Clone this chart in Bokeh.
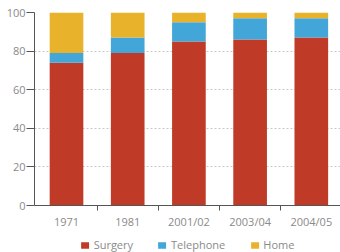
from bokeh.plotting import figure
from bokeh.models import ColumnDataSource, FixedTicker, Legend, LegendItem, Range1d, LinearAxis
from bokeh.embed import file_html
from bokeh.resources import INLINE

categories = ["1971", "1981", "2001/02", "2003/04", "2004/05"]
surgery = [74, 79, 85, 86, 87]
telephone = [5, 8, 10, 11, 10]
home = [21, 13, 5, 3, 3]
series = ["Surgery", "Telephone", "Home"]
colors = ["#c03a28", "#42a6d8", "#e9b22b"]
y_ticks = [0, 20, 40, 60, 80, 100]

pos = list(range(len(categories)))
source = ColumnDataSource(dict(x=pos, Surgery=surgery, Telephone=telephone, Home=home))

FONT = "Open Sans"
GRAY = "#8a8a8a"
AX = "#555555"

p = figure(width=340, height=252, output_backend="svg", toolbar_location=None,
           x_axis_location=None,
           x_range=Range1d(-0.523, 4.477), y_range=Range1d(-24.35, 100),
           min_border_left=34, min_border_right=0, min_border_top=12, min_border_bottom=0)
p.outline_line_color = None
p.background_fill_color = "white"
p.border_fill_color = "white"

rs = p.vbar_stack(series, x="x", width=0.55, color=colors, line_color=None, source=source)

p.xgrid.visible = False
p.ygrid.grid_line_color = "#c8c8c8"
p.ygrid.grid_line_dash = "2 2"
p.ygrid.ticker = FixedTicker(ticks=y_ticks)

ya = p.yaxis[0]
ya.ticker = FixedTicker(ticks=y_ticks)
ya.bounds = (0, 100)
ya.axis_line_color = AX
ya.major_tick_line_color = AX
ya.major_tick_out = 8
ya.major_tick_in = 0
ya.minor_tick_line_color = None
ya.major_label_standoff = 1
ya.major_label_text_font = FONT
ya.major_label_text_font_size = "11px"
ya.major_label_text_color = GRAY

xa = LinearAxis(fixed_location=0)
xa.ticker = FixedTicker(ticks=pos, minor_ticks=[i + 0.5 for i in pos[:-1]])
xa.major_label_overrides = {i: c for i, c in enumerate(categories)}
xa.axis_line_color = AX
xa.major_tick_line_color = None
xa.major_tick_out = 5
xa.major_tick_in = 0
xa.minor_tick_line_color = AX
xa.minor_tick_out = 5
xa.minor_tick_in = 0
xa.major_label_standoff = 3
xa.major_label_text_font = FONT
xa.major_label_text_font_size = "11px"
xa.major_label_text_color = GRAY
p.add_layout(xa, "below")

legend = Legend(items=[LegendItem(label=s, renderers=[r]) for s, r in zip(series, rs)],
                orientation="horizontal", location="bottom_center",
                glyph_width=10, glyph_height=8, label_height=12, label_standoff=4,
                spacing=24, padding=2, margin=0,
                label_text_font=FONT, label_text_font_size="11px", label_text_color=GRAY,
                border_line_color=None, background_fill_alpha=0)
p.add_layout(legend)

open("out.html", "w").write(file_html(p, INLINE))
